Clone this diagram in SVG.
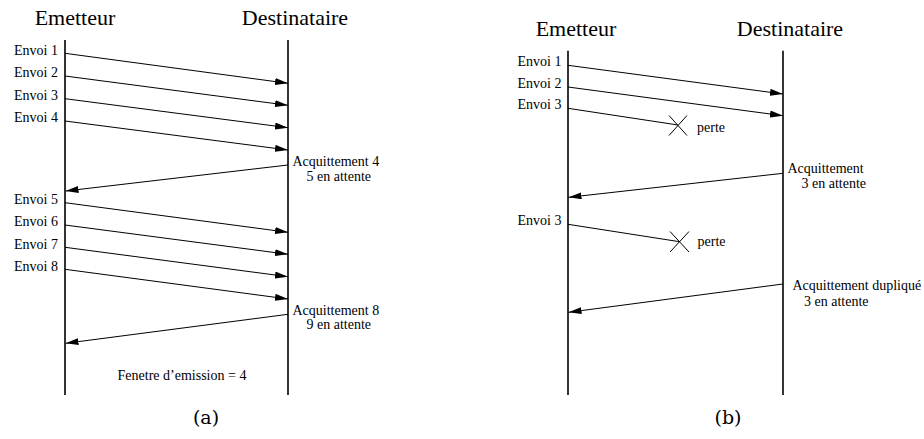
<svg xmlns="http://www.w3.org/2000/svg" width="924" height="439" viewBox="0 0 924 439">
<style>
text{fill:#000;font-family:"Liberation Serif",serif}
.title{font-size:22px;text-anchor:middle}
.lbl{font-size:14px}
.end{text-anchor:end}
.mid{text-anchor:middle}
.cap{font-size:19px;text-anchor:middle;font-family:"DejaVu Serif",serif}
.life{stroke:#000;stroke-width:1.6;fill:none}
.msg{stroke:#000;stroke-width:1;fill:none}
.arr{marker-end:url(#ah)}
</style>
<defs>
<marker id="ah" markerUnits="userSpaceOnUse" markerWidth="14" markerHeight="8" refX="13" refY="3.5" orient="auto">
<path d="M0,0 L13,3.5 L0,7 Z" fill="#000"/>
</marker>
</defs>

<g id="panel-a">
<g id="a-emetteur">
<text class="title" x="75" y="25">Emetteur</text>
<line class="life" x1="65" y1="40" x2="65" y2="395"/>
</g>
<g id="a-destinataire">
<text class="title" x="295" y="25">Destinataire</text>
<line class="life" x1="288" y1="40" x2="288" y2="395"/>
</g>
<g id="a-connectors">
<line class="msg arr" x1="65" y1="53.3" x2="288" y2="83.3"/>
<line class="msg arr" x1="65" y1="76" x2="288" y2="105.3"/>
<line class="msg arr" x1="65" y1="98.7" x2="288" y2="127.7"/>
<line class="msg arr" x1="65" y1="121" x2="288" y2="150"/>
<line class="msg arr" x1="288" y1="165" x2="65.5" y2="191"/>
<line class="msg arr" x1="65" y1="202.7" x2="288" y2="232.3"/>
<line class="msg arr" x1="65" y1="225" x2="288" y2="254.3"/>
<line class="msg arr" x1="65" y1="247.3" x2="288" y2="276.7"/>
<line class="msg arr" x1="65" y1="269.3" x2="288" y2="299"/>
<line class="msg arr" x1="288" y1="314.3" x2="65.5" y2="343.3"/>
</g>
<g id="a-labels">
<text class="lbl end" x="58" y="54.5">Envoi 1</text>
<text class="lbl end" x="58" y="77">Envoi 2</text>
<text class="lbl end" x="58" y="99.5">Envoi 3</text>
<text class="lbl end" x="58" y="122">Envoi 4</text>
<text class="lbl" x="292.5" y="166">Acquittement 4</text>
<text class="lbl" x="306.5" y="181">5 en attente</text>
<text class="lbl end" x="58" y="203.5">Envoi 5</text>
<text class="lbl end" x="58" y="226">Envoi 6</text>
<text class="lbl end" x="58" y="248.5">Envoi 7</text>
<text class="lbl end" x="58" y="270.5">Envoi 8</text>
<text class="lbl" x="292.5" y="315">Acquittement 8</text>
<text class="lbl" x="306.5" y="329">9 en attente</text>
<text class="lbl mid" x="182" y="380">Fenetre d’emission = 4</text>
</g>
<text class="cap" x="206" y="424">(a)</text>
</g>

<g id="panel-b">
<g id="b-emetteur">
<text class="title" x="576" y="36">Emetteur</text>
<line class="life" x1="568" y1="50.7" x2="568" y2="395"/>
</g>
<g id="b-destinataire">
<text class="title" x="790" y="36">Destinataire</text>
<line class="life" x1="783" y1="50.7" x2="783" y2="395"/>
</g>
<g id="b-connectors">
<line class="msg arr" x1="568" y1="65.3" x2="783" y2="94"/>
<line class="msg arr" x1="568" y1="87" x2="783" y2="115.7"/>
<line class="msg" x1="568" y1="108.3" x2="678" y2="125"/>
<line class="msg arr" x1="783" y1="173.3" x2="568.5" y2="197.3"/>
<line class="msg" x1="568" y1="224.3" x2="679.5" y2="241.7"/>
<line class="msg arr" x1="783" y1="284" x2="568.5" y2="312.3"/>
</g>
<g id="b-loss1">
<path class="msg" d="M669,115.5 L687,135.5 M669,135.5 L687,115.5"/>
<text class="lbl" x="697" y="131.5">perte</text>
</g>
<g id="b-loss2">
<path class="msg" d="M670,231.5 L689,252 M670,252 L689,231.5"/>
<text class="lbl" x="697.5" y="245.5">perte</text>
</g>
<g id="b-labels">
<text class="lbl end" x="561.5" y="66">Envoi 1</text>
<text class="lbl end" x="561.5" y="87.5">Envoi 2</text>
<text class="lbl end" x="561.5" y="108.5">Envoi 3</text>
<text class="lbl" x="787.5" y="172.5">Acquittement</text>
<text class="lbl" x="801.5" y="187.5">3 en attente</text>
<text class="lbl end" x="561.5" y="224.5">Envoi 3</text>
<text class="lbl" x="792.5" y="290">Acquittement dupliqué</text>
<text class="lbl" x="804" y="306">3 en attente</text>
</g>
<text class="cap" x="728" y="424">(b)</text>
</g>
</svg>
